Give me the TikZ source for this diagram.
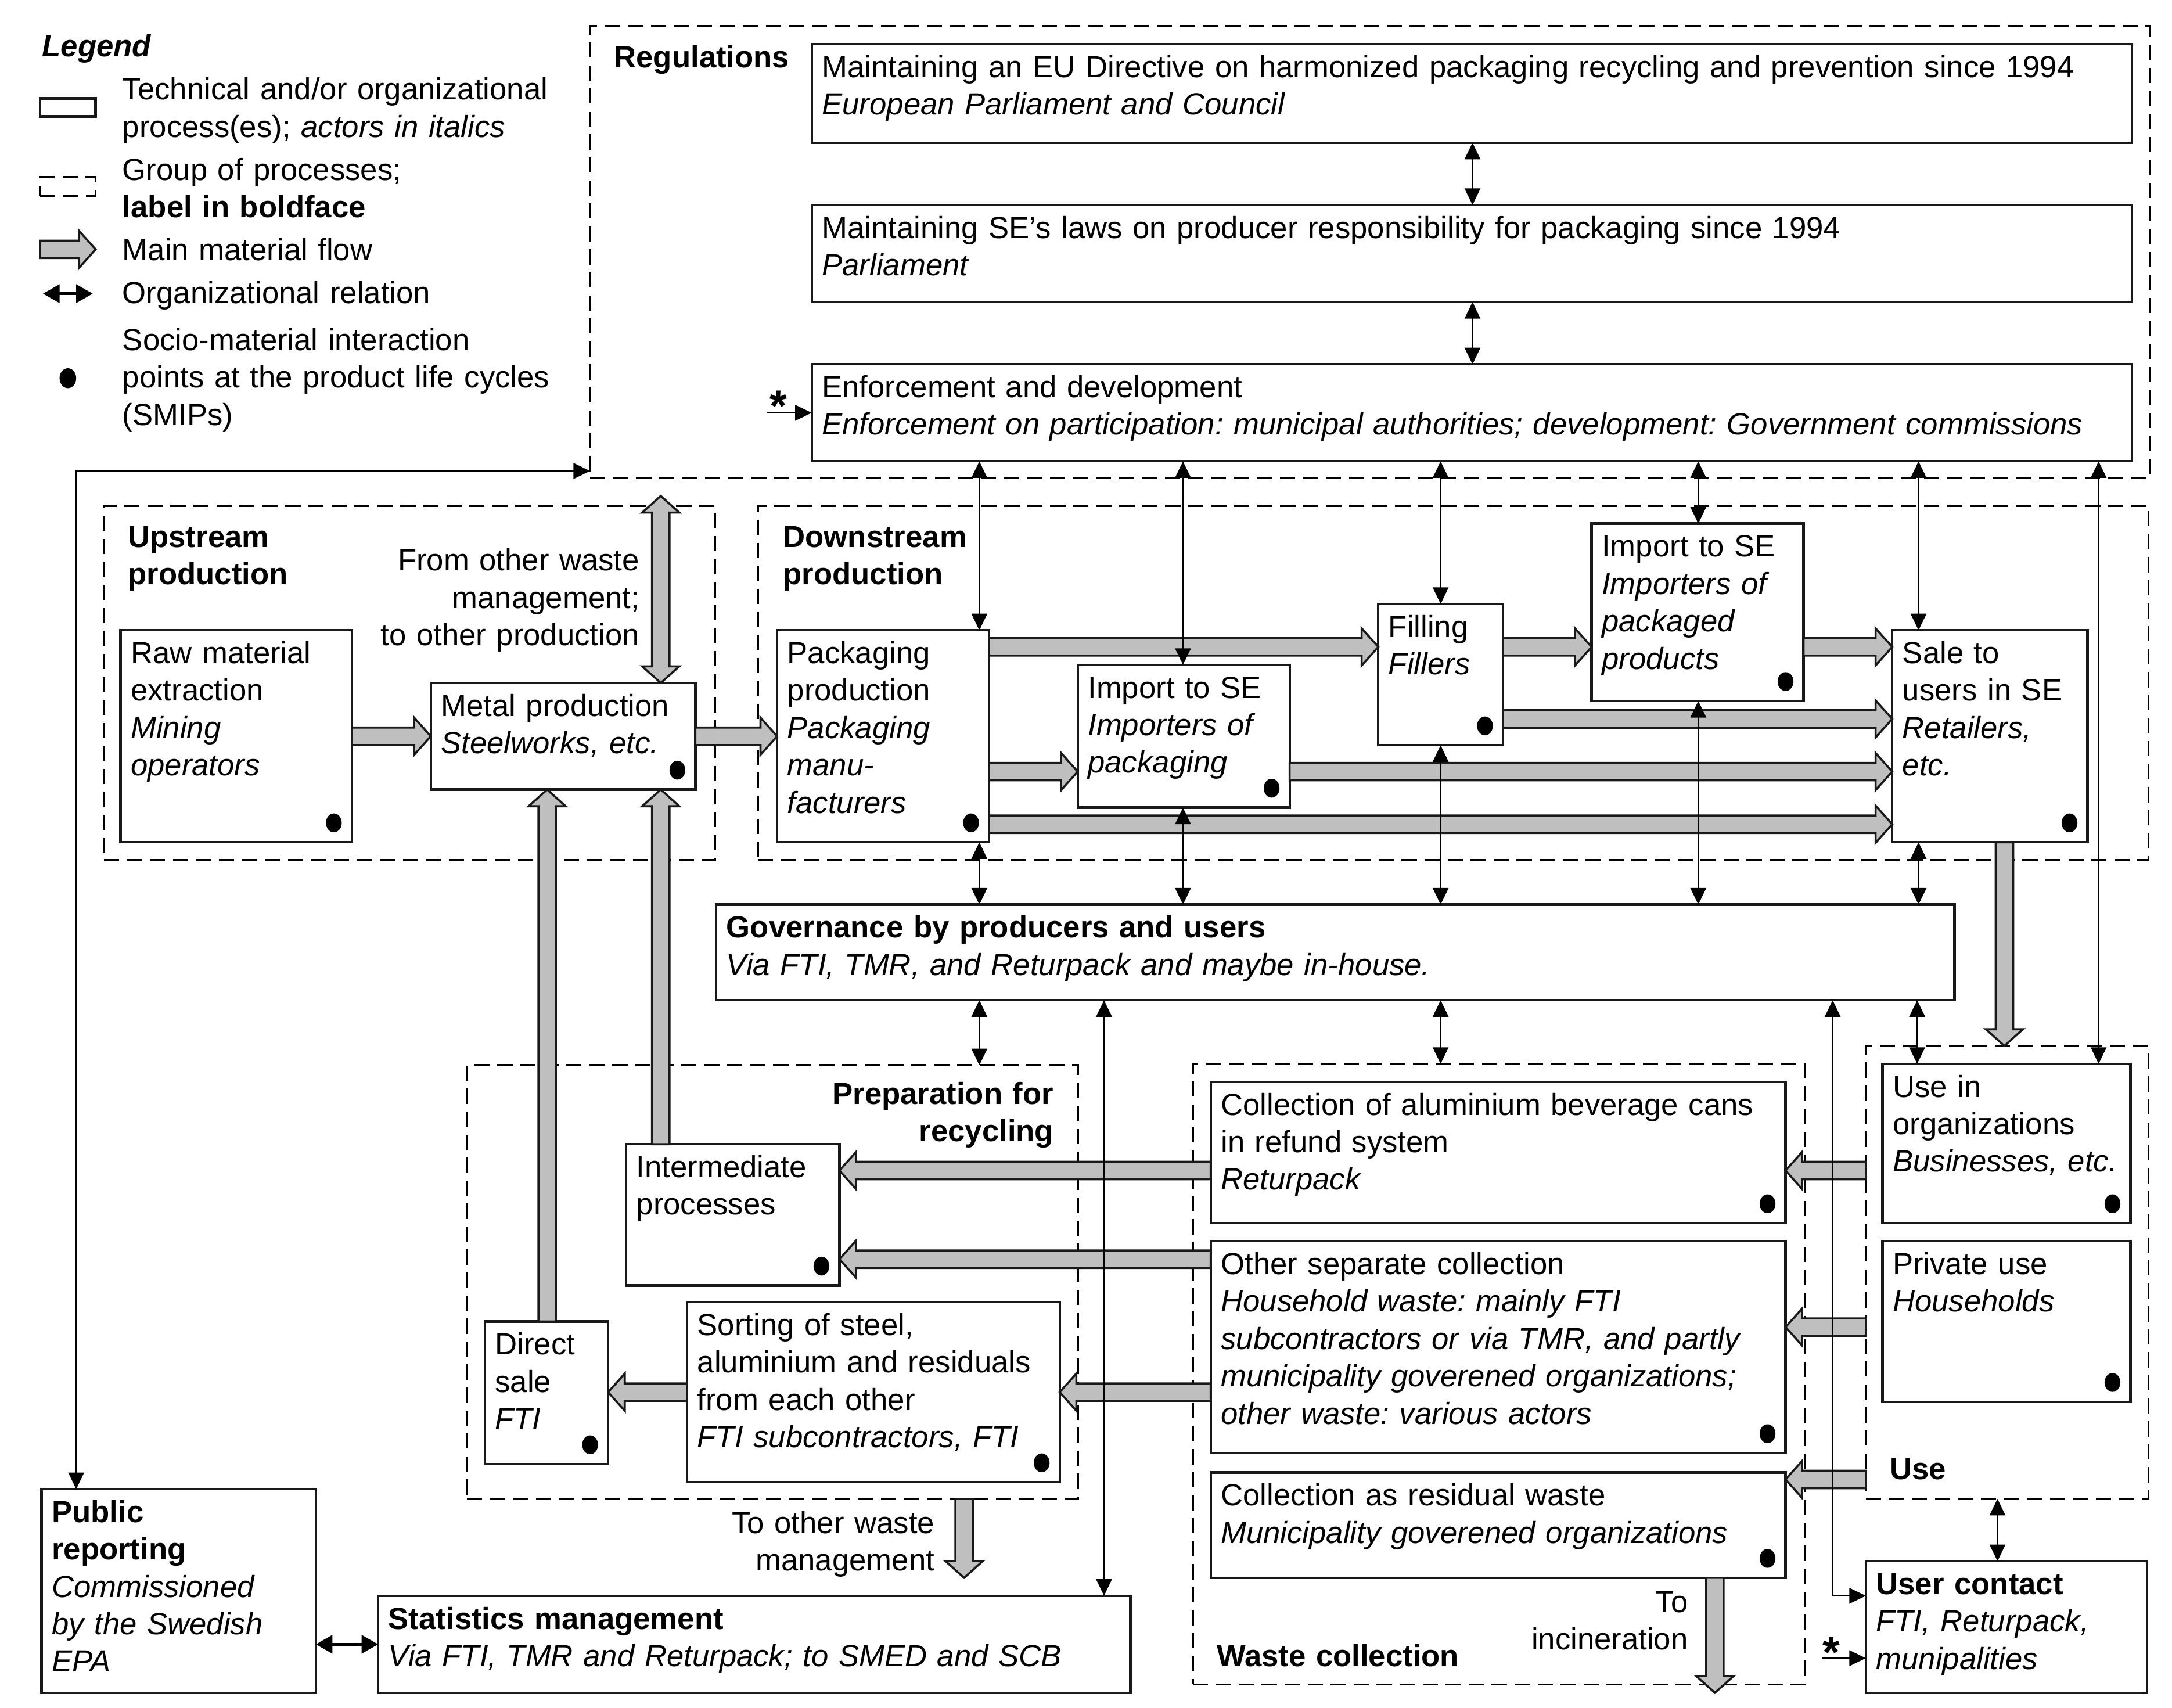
\documentclass[tikz,border=0pt]{standalone}
\usepackage{fontspec}
\setmainfont{Liberation Sans}
\usetikzlibrary{arrows.meta,calc}
\frenchspacing

\newcommand\fatw{3.15pt}
\newcommand\fath{6.7pt}
\newcommand\fatl{6pt}

\tikzset{
  every node/.style={font=\fontsize{11.05}{13.5}\selectfont},
  grp/.style={draw=black, line width=0.8pt, dash pattern=on 5.5pt off 2.8pt, inner sep=0pt, outer sep=0pt, anchor=north west},
  pbox/.style={draw=black!90, line width=0.9pt, fill=white, inner sep=0pt, outer sep=0pt, anchor=north west},
  ptext/.style={inner sep=0pt, text width=470pt, align=left, anchor=base west},
  rtext/.style={inner sep=0pt, text width=300pt, align=right, anchor=base east},
  rel/.style={line width=0.7pt, {Triangle[length=6pt,width=5.6pt]}-{Triangle[length=6pt,width=5.6pt]}},
  relto/.style={line width=0.7pt, -{Triangle[length=6pt,width=5.6pt]}},
  relbig/.style={line width=1.1pt, {Triangle[length=6pt,width=6.5pt]}-{Triangle[length=6pt,width=6.5pt]}},
  fatflow/.style={fill=black!25, draw=black!90, line width=0.75pt, line join=miter},
  smip/.style={fill=black},
  startext/.style={font=\fontsize{16}{16}\selectfont\bfseries, inner sep=0pt, anchor=base},
}

\newcommand\grpbox[5]{\node[grp, minimum width={#4*0.5pt}, minimum height={#5*0.5pt}] (#1) at (#2,#3) {};}
\newcommand\procbox[6]{%
  \node[pbox, minimum width={#4*0.5pt}, minimum height={#5*0.5pt}] (#1) at (#2,#3) {};
  \node[ptext] (#1-t) at ({#2+7},{#3+24}) {#6};}
\newcommand\smipdot[1]{\fill[smip] (#1.south east) ++(-13,-14) ellipse [x radius=2.85pt, y radius=3.4pt];}
\newcommand\vrelation[3]{\draw[rel] (#1,0 |- #2) -- (#1,0 |- #3);}

\newcommand\fatarrow[2]{%
  \draw[fatflow] let \p1=#1, \p2=#2,
    \n1={veclen(\x2-\x1,\y2-\y1)}, \n2={(\x2-\x1)/\n1}, \n3={(\y2-\y1)/\n1}
  in ({\x1-(\n3)*\fatw},{\y1+(\n2)*\fatw})
  -- ({\x2-(\n2)*\fatl-(\n3)*\fatw},{\y2-(\n3)*\fatl+(\n2)*\fatw})
  -- ({\x2-(\n2)*\fatl-(\n3)*\fath},{\y2-(\n3)*\fatl+(\n2)*\fath})
  -- (\p2)
  -- ({\x2-(\n2)*\fatl+(\n3)*\fath},{\y2-(\n3)*\fatl-(\n2)*\fath})
  -- ({\x2-(\n2)*\fatl+(\n3)*\fatw},{\y2-(\n3)*\fatl-(\n2)*\fatw})
  -- ({\x1+(\n3)*\fatw},{\y1-(\n2)*\fatw}) -- cycle;}

\newcommand\fatdarrow[2]{%
  \draw[fatflow] let \p1=#1, \p2=#2,
    \n1={veclen(\x2-\x1,\y2-\y1)}, \n2={(\x2-\x1)/\n1}, \n3={(\y2-\y1)/\n1}
  in (\p1)
  -- ({\x1+(\n2)*\fatl-(\n3)*\fath},{\y1+(\n3)*\fatl+(\n2)*\fath})
  -- ({\x1+(\n2)*\fatl-(\n3)*\fatw},{\y1+(\n3)*\fatl+(\n2)*\fatw})
  -- ({\x2-(\n2)*\fatl-(\n3)*\fatw},{\y2-(\n3)*\fatl+(\n2)*\fatw})
  -- ({\x2-(\n2)*\fatl-(\n3)*\fath},{\y2-(\n3)*\fatl+(\n2)*\fath})
  -- (\p2)
  -- ({\x2-(\n2)*\fatl+(\n3)*\fath},{\y2-(\n3)*\fatl-(\n2)*\fath})
  -- ({\x2-(\n2)*\fatl+(\n3)*\fatw},{\y2-(\n3)*\fatl-(\n2)*\fatw})
  -- ({\x1+(\n2)*\fatl+(\n3)*\fatw},{\y1+(\n3)*\fatl-(\n2)*\fatw})
  -- ({\x1+(\n2)*\fatl+(\n3)*\fath},{\y1+(\n3)*\fatl-(\n2)*\fath})
  -- cycle;}

\begin{document}
\begin{tikzpicture}[x=0.5pt,y=-0.5pt]
\useasboundingbox (0,0) rectangle (1568,1233);

% ---------- groups ----------
\grpbox{regs}{426}{19}{1126}{326}
\grpbox{up}{75}{365}{441}{256}
\grpbox{down}{547}{365}{1004}{256}
\grpbox{prep}{337}{769}{441}{313}
\grpbox{waste}{861}{768}{442}{448}
\grpbox{use}{1347}{755}{204}{327}

\node[ptext] (regs-l) at (443,49) {\textbf{Regulations}};
\node[ptext] (up-l) at (92,395) {\textbf{Upstream}\\\textbf{production}};
\node[ptext] (down-l) at (565,395) {\textbf{Downstream}\\\textbf{production}};
\node[rtext] (prep-l) at (761,797) {\textbf{Preparation for}\\\textbf{recycling}};
\node[ptext] (waste-l) at (878,1203) {\textbf{Waste collection}};
\node[ptext] (use-l) at (1364,1068) {\textbf{Use}};

% ---------- legend ----------
\node[ptext] (leg-t) at (30,41) {\textbf{\textit{Legend}}};
\node[pbox, minimum width=20pt, minimum height=6.5pt] (leg-box) at (29,71) {};
\node[ptext] (leg-box-t) at (88,72) {Technical and/or organizational\\process(es); \textit{actors in italics}};
\node[grp, minimum width=20pt, minimum height=6.8pt] (leg-grp) at (29,128) {};
\node[ptext] (leg-grp-t) at (88,130) {Group of processes;\\\textbf{label in boldface}};
\coordinate (leg-fa1) at (29,180);
\coordinate (leg-fa2) at (69,180);
\fatarrow{(leg-fa1)}{(leg-fa2)}
\node[ptext] (leg-fa-t) at (88,188) {Main material flow};
\coordinate (leg-r1) at (31,212);
\coordinate (leg-r2) at (67,212);
\draw[relbig] (leg-r1) -- (leg-r2);
\node[ptext] (leg-r-t) at (88,219) {Organizational relation};
\fill[smip] (49,273) ellipse [x radius=3pt, y radius=3.6pt];
\node[ptext] (leg-dot-t) at (88,253) {Socio-material interaction\\points at the product life cycles\\(SMIPs)};

% ---------- process boxes ----------
\procbox{eu}{586}{32}{953}{71}{Maintaining an EU Directive on harmonized packaging recycling and prevention since 1994\\\textit{European Parliament and Council}}
\procbox{se}{586}{148}{953}{70}{Maintaining SE’s laws on producer responsibility for packaging since 1994\\\textit{Parliament}}
\procbox{enf}{586}{263}{953}{70}{Enforcement and development\\\textit{Enforcement on participation: municipal authorities; development: Government commissions}}

\procbox{raw}{87}{455}{167}{153}{Raw material\\extraction\\\textit{Mining}\\\textit{operators}}
\procbox{metal}{311}{493}{191}{77}{Metal production\\\textit{Steelworks, etc.}}
\procbox{pack}{561}{455}{153}{153}{Packaging\\production\\\textit{Packaging}\\\textit{manu-}\\\textit{facturers}}
\procbox{impp}{778}{480}{153}{103}{Import to SE\\\textit{Importers of}\\\textit{packaging}}
\procbox{fill}{995}{436}{90}{102}{Filling\\\textit{Fillers}}
\procbox{impd}{1149}{378}{153}{128}{Import to SE\\\textit{Importers of}\\\textit{packaged}\\\textit{products}}
\procbox{sale}{1366}{455}{141}{153}{Sale to\\users in SE\\\textit{Retailers,}\\\textit{etc.}}
\procbox{gov}{517}{653}{894}{69}{\textbf{Governance by producers and users}\\\textit{Via FTI, TMR, and Returpack and maybe in-house.}}

\procbox{inter}{452}{826}{154}{102}{Intermediate\\processes}
\procbox{sort}{496}{940}{269}{130}{Sorting of steel,\\aluminium and residuals\\from each other\\\textit{FTI subcontractors, FTI}}
\procbox{direct}{350}{954}{89}{103}{Direct\\sale\\\textit{FTI}}

\procbox{colal}{874}{781}{415}{102}{Collection of aluminium beverage cans\\in refund system\\\textit{Returpack}}
\procbox{othsep}{874}{896}{415}{153}{Other separate collection\\\textit{Household waste: mainly FTI}\\\textit{subcontractors or via TMR, and partly}\\\textit{municipality goverened organizations;}\\\textit{other waste: various actors}}
\procbox{resid}{874}{1063}{415}{76}{Collection as residual waste\\\textit{Municipality goverened organizations}}

\procbox{useorg}{1359}{768}{179}{115}{Use in\\organizations\\\textit{Businesses, etc.}}
\procbox{priv}{1359}{896}{179}{116}{Private use\\\textit{Households}}
\procbox{usercon}{1347}{1127}{203}{95}{\textbf{User contact}\\\textit{FTI, Returpack,}\\\textit{munipalities}}

\procbox{pubrep}{30}{1075}{198}{147}{\textbf{Public}\\\textbf{reporting}\\\textit{Commissioned}\\\textit{by the Swedish}\\\textit{EPA}}
\procbox{stats}{273}{1152}{543}{70}{\textbf{Statistics management}\\\textit{Via FTI, TMR and Returpack; to SMED and SCB}}

\foreach \b in {raw,metal,pack,impp,fill,impd,sale,inter,sort,direct,colal,othsep,resid,useorg,priv}{\smipdot{\b}}

% ---------- free texts ----------
\node[rtext] (fromother) at (462,412) {From other waste\\management;\\to other production};
\node[rtext] (toother) at (675,1107) {To other waste\\management};
\node[rtext] (toincin) at (1219,1164) {To\\incineration};

% ---------- main material flows ----------
\fatarrow{(raw.east)}{(metal.west)}
\fatarrow{(metal.east)}{(pack.west)}
\coordinate (otherwm) at (477,358);
\fatdarrow{(otherwm)}{(477,0 |- metal.north)}
\fatarrow{(395,0 |- direct.north)}{(395,0 |- metal.south)}
\fatarrow{(477,0 |- inter.north)}{(477,0 |- metal.south)}
\fatarrow{(pack.east |- 0,467)}{(fill.west |- 0,467)}
\fatarrow{(fill.east |- 0,467)}{(impd.west |- 0,467)}
\fatarrow{(impd.east |- 0,467)}{(sale.west |- 0,467)}
\fatarrow{(fill.east |- 0,519)}{(sale.west |- 0,519)}
\fatarrow{(pack.east |- 0,557)}{(impp.west |- 0,557)}
\fatarrow{(impp.east |- 0,557)}{(sale.west |- 0,557)}
\fatarrow{(pack.east |- 0,595)}{(sale.west |- 0,595)}
\fatarrow{(1447,0 |- sale.south)}{(1447,0 |- use.north)}
\fatarrow{(colal.west |- 0,845)}{(inter.east |- 0,845)}
\fatarrow{(othsep.west |- 0,909)}{(inter.east |- 0,909)}
\fatarrow{(othsep.west |- 0,1005)}{(sort.east |- 0,1005)}
\fatarrow{(sort.west |- 0,1005)}{(direct.east |- 0,1005)}
\coordinate (toother-end) at (696,1139);
\fatarrow{(696,0 |- prep.south)}{(toother-end)}
\coordinate (toincin-end) at (1238,1222);
\fatarrow{(1238,0 |- resid.south)}{(toincin-end)}
\fatarrow{(use.west |- 0,845)}{(colal.east |- 0,845)}
\fatarrow{(use.west |- 0,958)}{(othsep.east |- 0,958)}
\fatarrow{(use.west |- 0,1068)}{(resid.east |- 0,1068)}

% ---------- organizational relations ----------
\vrelation{1063}{eu.south}{se.north}
\vrelation{1063}{se.south}{enf.north}
\vrelation{707}{enf.south}{pack.north}
\vrelation{854}{enf.south}{impp.north}
\vrelation{1040}{enf.south}{fill.north}
\vrelation{1226}{enf.south}{impd.north}
\vrelation{1385}{enf.south}{sale.north}
\vrelation{1515}{enf.south}{useorg.north}
\vrelation{707}{pack.south}{gov.north}
\vrelation{854}{impp.south}{gov.north}
\vrelation{1040}{fill.south}{gov.north}
\vrelation{1226}{impd.south}{gov.north}
\vrelation{1385}{sale.south}{gov.north}
\vrelation{707}{gov.south}{prep.north}
\vrelation{797}{gov.south}{stats.north}
\vrelation{1040}{gov.south}{waste.north}
\vrelation{1384}{gov.south}{useorg.north}
\vrelation{1442}{use.south}{usercon.north}
\draw[rel] (1323,0 |- gov.south) |- (usercon.west |- 0,1152);
\coordinate (regcorner) at (55,340);
\draw[rel] (regs.west |- regcorner) -- (regcorner) -- (regcorner |- pubrep.north);
\draw[relbig] (pubrep.east |- 0,1187) -- (stats.west |- 0,1187);

\coordinate (star1) at (554,298);
\draw[relto] (star1) -- (enf.west |- star1);
\node[startext] (star1-t) at (562,304) {*};
\coordinate (star2) at (1315,1197);
\draw[relto] (star2) -- (usercon.west |- star2);
\node[startext] (star2-t) at (1322,1204) {*};
\end{tikzpicture}
\end{document}
